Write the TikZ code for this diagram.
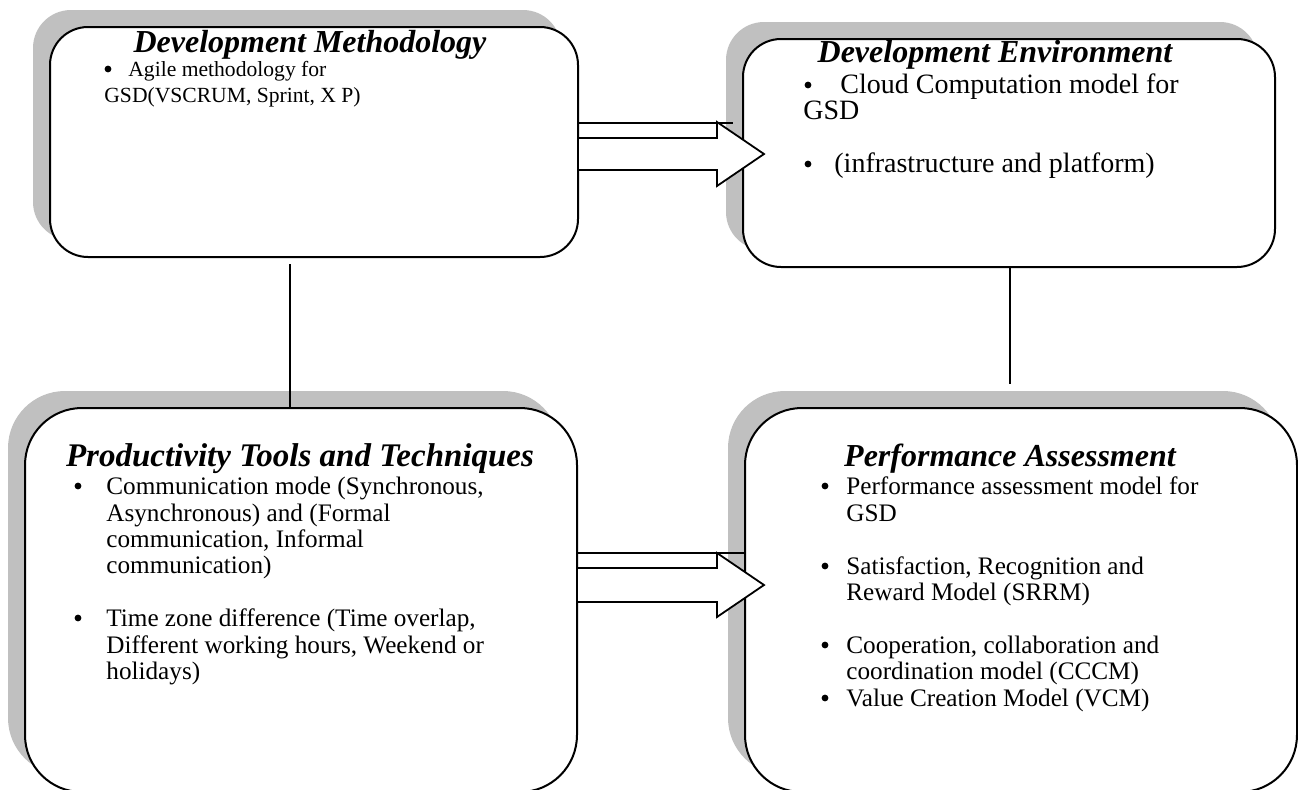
\documentclass[tikz,border=0pt]{standalone}
\usepackage{fontspec}
\setmainfont{Liberation Serif}
\usetikzlibrary{calc}
\definecolor{shadegray}{RGB}{192,192,192}
\begin{document}
\begin{tikzpicture}[x=0.5pt,y=-0.5pt,
  card/.style={rectangle, draw=black, line width=1pt, fill=white, inner sep=0pt, outer sep=0pt},
  cardshadow/.style={rectangle, fill=shadegray, draw=none, inner sep=0pt, outer sep=0pt},
  ttl/.style={inner sep=0pt, anchor=base, font=\fontsize{16}{18}\selectfont\bfseries\itshape},
  txt/.style={inner sep=0pt, anchor=base west, font=\fontsize{12.6}{15}\selectfont},
  smalltxt/.style={txt, font=\fontsize{10.8}{13}\selectfont},
  midtxt/.style={txt, font=\fontsize{14}{16}\selectfont},
  dot/.style={circle, fill=black, inner sep=0pt, minimum size=3.4pt},
  blockarrow/.style={draw=black, line width=0.9pt, fill=white, line join=miter},
  link/.style={draw=black, line width=1pt}]
\useasboundingbox (0,0) rectangle (1298,789);
\clip (0,0) rectangle (1298,789);

% shadows
\node[cardshadow, rounded corners=19pt, minimum width=264pt, minimum height=115pt] (m1s) at (297,125) {};
\node[cardshadow, rounded corners=19pt, minimum width=266pt, minimum height=114pt] (m2s) at (992,136) {};
\node[cardshadow, rounded corners=28.5pt, minimum width=276pt, minimum height=192pt] (m3s) at (284,583) {};
\node[cardshadow, rounded corners=28.5pt, minimum width=276pt, minimum height=192pt] (m4s) at (1004,583) {};

% cards
\node[card, rounded corners=19pt, minimum width=264pt, minimum height=115pt] (m1) at (314,142) {};
\node[card, rounded corners=19pt, minimum width=266pt, minimum height=114pt] (m2) at (1009,153) {};
\node[card, rounded corners=28.5pt, minimum width=276pt, minimum height=192pt] (m3) at (301,600) {};
\node[card, rounded corners=28.5pt, minimum width=276pt, minimum height=192pt] (m4) at (1021,600) {};

% vertical links
\coordinate (c1) at (290,264);
\draw[link] (c1) -- (c1 |- m3.north);
\coordinate (c2) at (1010,384);
\draw[link] (c2 |- m2.south) -- (c2);

% upper block arrow
\draw[link] (m1.east |- 0,123) -- (733,123);
\coordinate (a1) at (m1.east |- 0,154);
\draw[blockarrow] ($(a1)+(0,-16)$) -- ++(139,0) -- ++(0,-16) -- ++(47,32) -- ++(-47,32) -- ++(0,-16) -- ++(-139,0) -- cycle;

% lower block arrow
\draw[link] (m3.east |- 0,553) -- (m4.west |- 0,553);
\coordinate (a2) at (m3.east |- 0,585);
\draw[blockarrow] ($(a2)+(0,-17)$) -- ++(140,0) -- ++(0,-15) -- ++(47,32) -- ++(-47,32) -- ++(0,-15) -- ++(-140,0) -- cycle;

% Development Methodology
\node[ttl] (t1) at (310,52) {Development Methodology};
\node[dot] (b11) at (108,69) {};
\node[smalltxt] (l11) at (128,76) {Agile methodology for};
\node[smalltxt] (l12) at (104,102) {GSD(VSCRUM, Sprint, X P)};

% Development Environment
\node[ttl] (t2) at (995,62) {Development Environment};
\node[dot] (b21) at (808,85) {};
\node[midtxt] (l21) at (840,93) {Cloud Computation model for};
\node[midtxt] (l22) at (803,119) {GSD};
\node[dot] (b22) at (808,164) {};
\node[midtxt] (l23) at (834,172) {(infrastructure and platform)};

% Productivity Tools and Techniques
\node[ttl, font=\fontsize{16.5}{19}\selectfont\bfseries\itshape] (t3) at (300,466) {Productivity Tools and Techniques};
\node[dot] (b31) at (78,486) {};
\node[txt] (l31) at (106,494) {Communication mode (Synchronous,};
\node[txt] (l32) at (106,521) {Asynchronous) and (Formal};
\node[txt] (l33) at (106,547) {communication, Informal};
\node[txt] (l34) at (106,573) {communication)};
\node[dot] (b32) at (78,618) {};
\node[txt] (l35) at (106,626) {Time zone difference (Time overlap,};
\node[txt] (l36) at (106,653) {Different working hours, Weekend or};
\node[txt] (l37) at (106,679) {holidays)};

% Performance Assessment
\node[ttl] (t4) at (1010,466) {Performance Assessment};
\node[dot] (b41) at (825,486) {};
\node[txt] (l41) at (846,494) {Performance assessment model for};
\node[txt] (l42) at (846,521) {GSD};
\node[dot] (b42) at (825,566) {};
\node[txt] (l43) at (846,574) {Satisfaction, Recognition and};
\node[txt] (l44) at (846,600) {Reward Model (SRRM)};
\node[dot] (b43) at (825,645) {};
\node[txt] (l45) at (846,653) {Cooperation, collaboration and};
\node[txt] (l46) at (846,679) {coordination model (CCCM)};
\node[dot] (b44) at (825,698) {};
\node[txt] (l47) at (846,706) {Value Creation Model (VCM)};
\end{tikzpicture}
\end{document}
